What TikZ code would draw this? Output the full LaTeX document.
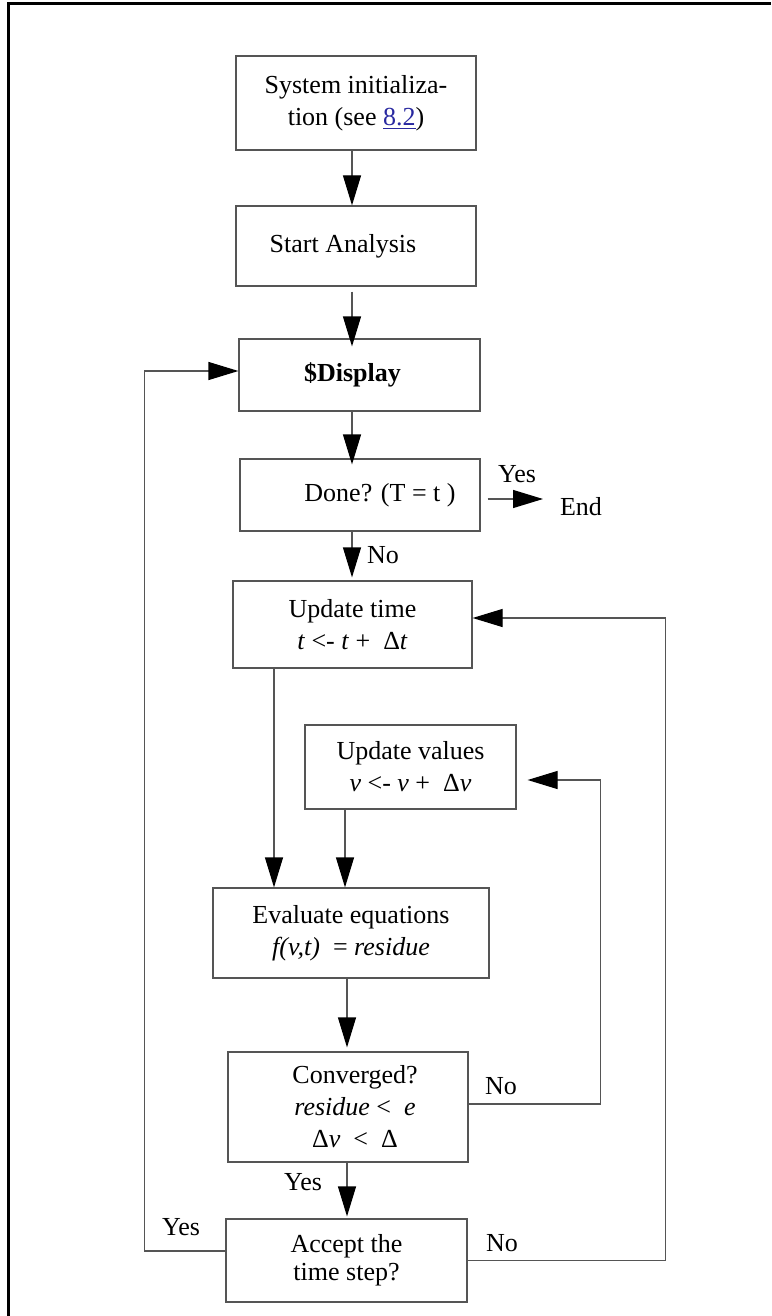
\documentclass[tikz,border=0pt]{standalone}
\usepackage{fontspec}
\setmainfont{Liberation Serif}
\usetikzlibrary{arrows.meta,calc}
\definecolor{linegray}{RGB}{85,85,85}
\definecolor{linkblue}{RGB}{40,40,160}
\begin{document}
\begin{tikzpicture}[x=0.5pt,y=-0.5pt,
  every node/.style={font=\fontsize{13}{16}\selectfont, inner sep=0pt, align=center},
  box/.style={draw=linegray, line width=0.6pt, rectangle},
  arr/.style={draw=linegray, line width=0.6pt, -{Triangle[length=15pt,width=9pt,color=black]}},
  ln/.style={draw=linegray, line width=0.6pt}]
\useasboundingbox (0,0) rectangle (771,1316);
% partial frame
\draw[line width=1.5pt] (8.5,1316) -- (8.5,4) -- (771,4);

% boxes
\node[box, minimum width=120pt, minimum height=47pt] (b1) at (356,103)
  {System initializa-\\tion (see {\color{linkblue}\underline{8.2}})};
\node[box, minimum width=120pt, minimum height=40pt] (b2) at (356,246)
  {Start Analysis\hspace*{13pt}};
\node[box, minimum width=120.5pt, minimum height=36pt] (disp) at (359.5,375)
  {\textbf{\$Display}\hspace*{7pt}};
\node[box, minimum width=120pt, minimum height=36pt] (done) at (360,495)
  {\hspace*{20pt}Done? (T = t )};
\node[box, minimum width=119.5pt, minimum height=43.5pt] (upt) at (352.5,624.5)
  {Update time\\\textit{t} <- \textit{t} +\ \ Δ\textit{t}};
\node[box, minimum width=105.5pt, minimum height=42pt] (upv) at (410.5,767)
  {Update values\\\textit{v} <- \textit{v} +\ \ Δ\textit{v}};
\node[box, minimum width=138pt, minimum height=45pt] (eval) at (351,933)
  {Evaluate equations\\\textit{f(v,t)}\ \ = \textit{residue}};
\node[box, minimum width=120pt, minimum height=55pt] (conv) at (348,1107)
  {\hspace*{7pt}Converged?\\\hspace*{7pt}\textit{residue} <\ \ \textit{e}\\\hspace*{7pt}Δ\textit{v}\ \ <\ \ Δ};
\node[box, minimum width=120.5pt, minimum height=41.5pt] (acc) at (346.5,1260.5)
  {Accept the\\[-2pt]time step?};

% free texts
\node (endn) at (581,507) {End};
\coordinate (endtip) at (543,499);
\node (yes1) at (517,474) {Yes};
\node (no1) at (383,555) {No};
\node (no2) at (501,1086) {No};
\node (yes2) at (303,1182) {Yes};
\node (yes3) at (181,1227) {Yes};
\node (no3) at (502,1243) {No};

% main flow
\draw[arr] (b1.south -| 352,0) -- (b2.north -| 352,0);
\draw[arr, shorten >=-4pt] ([yshift=-2.5pt]b2.south -| 352,0) -- (disp.north -| 352,0);
\draw[arr, shorten >=-3pt] (disp.south -| 352,0) -- (done.north -| 352,0);
\draw[arr, shorten >=1.5pt] (done.south -| 352,0) -- (upt.north -| 352,0);
\draw[arr] ([yshift=-2pt,xshift=3.5pt]done.east) -- (endtip);
\draw[arr] (upt.south -| 274,0) -- (eval.north -| 274,0);
\draw[arr] (upv.south -| 345,0) -- (eval.north -| 345,0);
\draw[arr, shorten >=2pt] (eval.south -| 347,0) -- (conv.north -| 347,0);
\draw[arr, shorten >=1pt] (conv.south -| 347,0) -- (acc.north -| 347,0);

% loops
\draw[arr, shorten >=5.5pt] ([yshift=1.5pt]conv.east) -- ++(66pt,0) |- ([yshift=-6.5pt]upv.east);
\draw[arr] (acc.east) -- ++(99pt,0) |- ([yshift=3.25pt]upt.east);
\draw[arr] ([yshift=4.75pt]acc.west) -- ++(-40.5pt,0) |- ([yshift=2pt]disp.west);
\end{tikzpicture}
\end{document}
